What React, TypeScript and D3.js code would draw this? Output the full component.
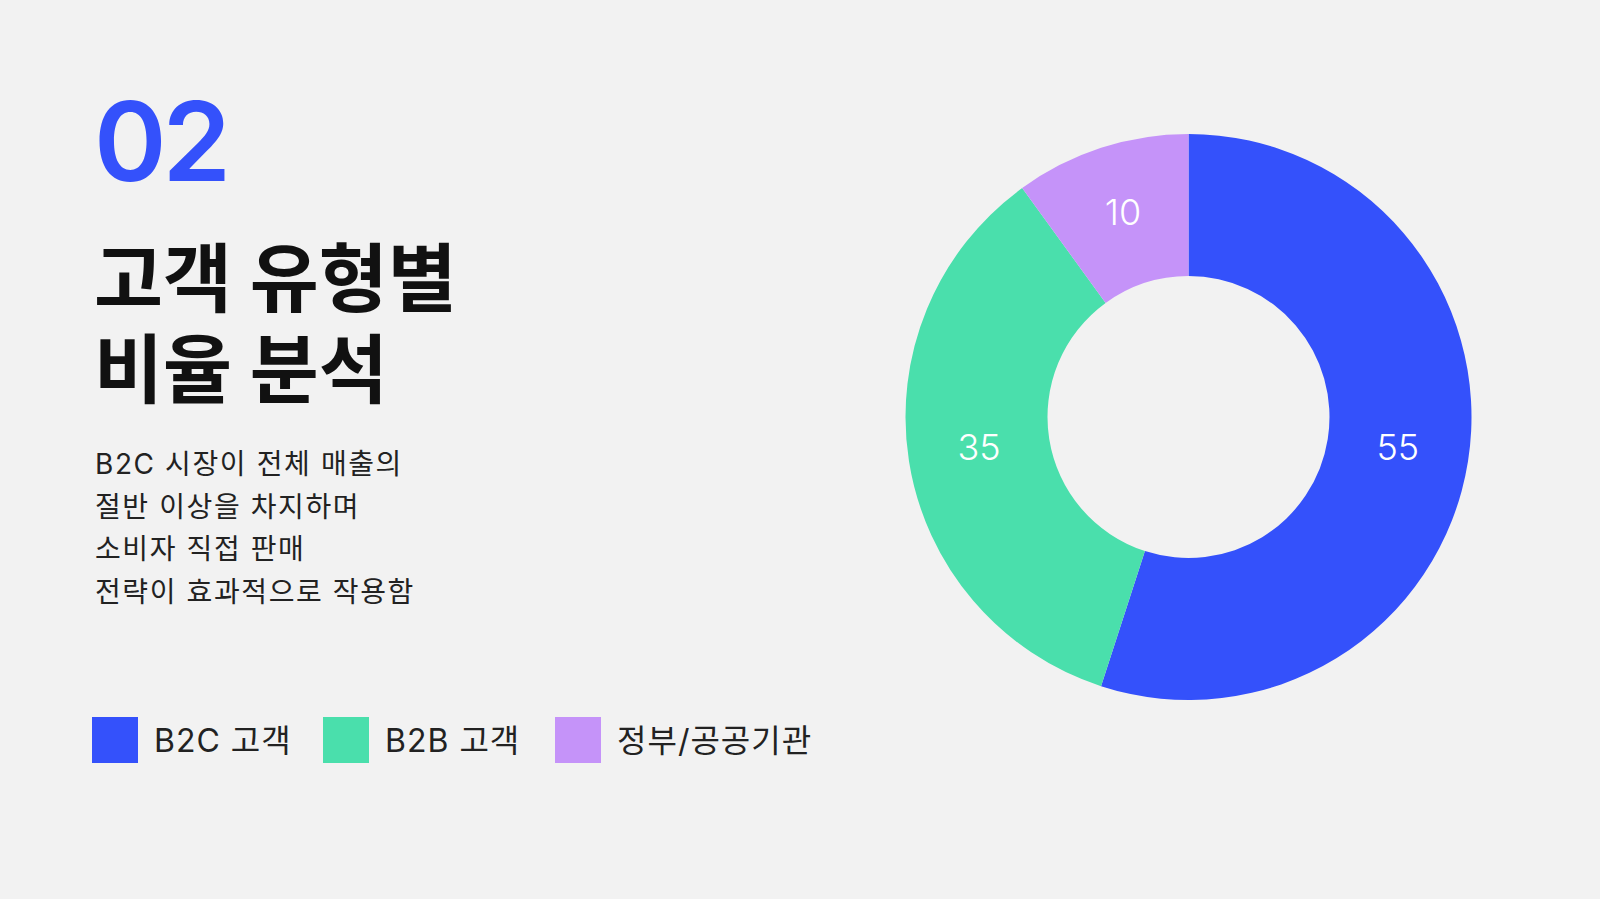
import React from "react";
import * as d3 from "d3";

const categories = ["B2C 고객", "B2B 고객", "정부/공공기관"];
const values = [55, 35, 10];
const colors = ["#3451FB", "#4ADFAC", "#C593F9"];
const bodyLines = [
  "B2C 시장이 전체 매출의",
  "절반 이상을 차지하며",
  "소비자 직접 판매",
  "전략이 효과적으로 작용함",
];
const titleLines = ["고객 유형별", "비율 분석"];
const sectionNo = "02";

const FONT = "Inter, 'Noto Sans CJK KR', sans-serif";

export default function App() {
  const W = 1600;
  const H = 899;
  const cx = 1188.5;
  const cy = 417;
  const outerR = 283;
  const innerR = 141;

  const pie = d3.pie<number>().sort(null).value((d) => d);
  const arcs = pie(values);
  const arc = d3.arc<d3.PieArcDatum<number>>().innerRadius(innerR).outerRadius(outerR);

  const legendX = [92, 323, 555];

  return (
    <div style={{ position: "fixed", left: 0, top: 0, width: W, height: H, background: "#F2F2F2" }}>
      <svg width={W} height={H} style={{ display: "block" }}>
        <rect width={W} height={H} fill="#F2F2F2" />
        <text x={94} y={181} fontFamily={FONT} fontWeight={600} fontSize={110} letterSpacing={-4} fill="#3451FB">
          {sectionNo}
        </text>
        {titleLines.map((t, i) => (
          <text key={t} x={94} y={306 + i * 91} fontFamily={FONT} fontWeight={700} fontSize={75} fill="#111">
            {t}
          </text>
        ))}
        {bodyLines.map((t, i) => (
          <text key={t} x={95} y={474 + i * 42.5} fontFamily={FONT} fontWeight={400} fontSize={28} letterSpacing={1.6} fill="#222">
            {t}
          </text>
        ))}
        <g transform={`translate(${cx},${cy})`}>
          {arcs.map((a, i) => (
            <path key={i} d={arc(a) || ""} fill={colors[i]} />
          ))}
          {arcs.map((a, i) => {
            const [x, y] = arc.centroid(a);
            return (
              <text
                key={"l" + i}
                x={x}
                y={y - 3}
                textAnchor="middle"
                dominantBaseline="central"
                fontFamily={FONT}
                fontWeight={300}
                fontSize={36}
                fill="#ffffff"
              >
                {values[i]}
              </text>
            );
          })}
        </g>
        {categories.map((c, i) => (
          <g key={c} transform={`translate(${legendX[i]},717)`}>
            <rect width={46} height={46} fill={colors[i]} />
            <text x={62} y={23} dominantBaseline="central" fontFamily={FONT} fontSize={32} letterSpacing={1} fill="#222">
              {c}
            </text>
          </g>
        ))}
      </svg>
    </div>
  );
}
